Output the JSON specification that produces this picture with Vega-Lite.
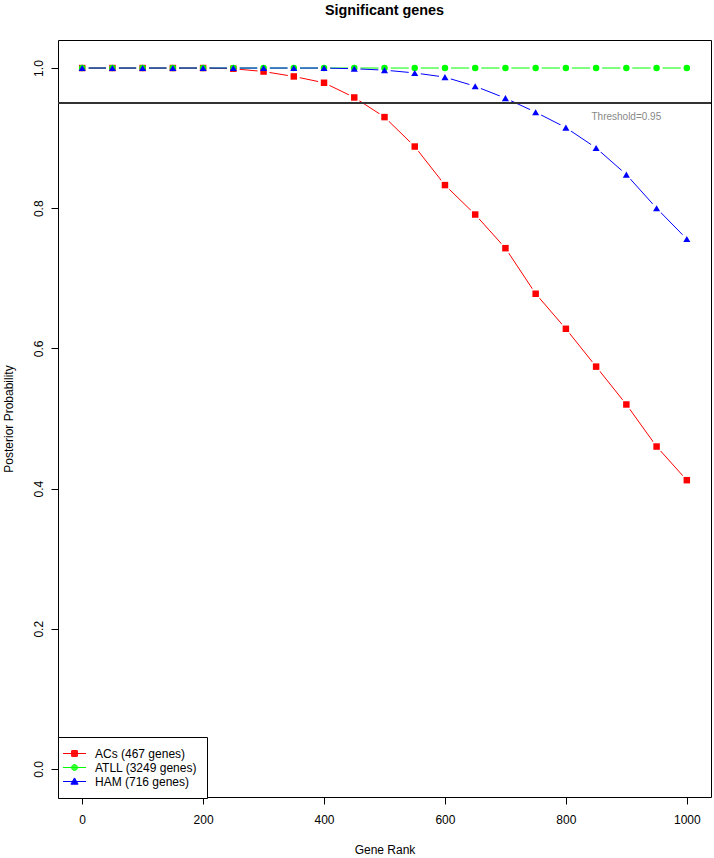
{
  "$schema": "https://vega.github.io/schema/vega-lite/v6.json",
  "autosize": "none",
  "width": 653,
  "height": 757,
  "padding": {"left": 58, "top": 40, "right": 3, "bottom": 61},
  "background": "white",
  "title": {
    "text": "Significant genes",
    "font": "Liberation Sans",
    "fontSize": 14.4,
    "fontWeight": "bold",
    "color": "black",
    "anchor": "middle",
    "offset": 22
  },
  "config": {
    "font": "Liberation Sans",
    "view": {"stroke": "black", "strokeWidth": 1},
    "axis": {
      "labelFont": "Liberation Sans",
      "labelFontSize": 12,
      "labelColor": "black",
      "titleFont": "Liberation Sans",
      "titleFontSize": 12,
      "titleFontWeight": "normal",
      "titleColor": "black",
      "tickColor": "black",
      "tickSize": 7,
      "domain": false,
      "grid": false
    },
    "axisX": {
      "labelPadding": 10,
      "titleBaseline": "alphabetic",
      "titleY": 56
    },
    "axisY": {
      "labelAngle": 270,
      "labelAlign": "center",
      "labelBaseline": "alphabetic",
      "labelPadding": 9,
      "titleAngle": 270,
      "titleAlign": "center",
      "titleBaseline": "alphabetic",
      "titleX": -46,
      "titleY": 378.5
    }
  },
  "data": {
    "values": [
      {"series": "ACs (467 genes)", "rank": 0, "prob": 1.0},
      {"series": "ACs (467 genes)", "rank": 50, "prob": 1.0},
      {"series": "ACs (467 genes)", "rank": 100, "prob": 1.0},
      {"series": "ACs (467 genes)", "rank": 150, "prob": 1.0},
      {"series": "ACs (467 genes)", "rank": 200, "prob": 1.0},
      {"series": "ACs (467 genes)", "rank": 250, "prob": 0.999},
      {"series": "ACs (467 genes)", "rank": 300, "prob": 0.995},
      {"series": "ACs (467 genes)", "rank": 350, "prob": 0.988},
      {"series": "ACs (467 genes)", "rank": 400, "prob": 0.979},
      {"series": "ACs (467 genes)", "rank": 450, "prob": 0.958},
      {"series": "ACs (467 genes)", "rank": 500, "prob": 0.930},
      {"series": "ACs (467 genes)", "rank": 550, "prob": 0.888},
      {"series": "ACs (467 genes)", "rank": 600, "prob": 0.833},
      {"series": "ACs (467 genes)", "rank": 650, "prob": 0.791},
      {"series": "ACs (467 genes)", "rank": 700, "prob": 0.743},
      {"series": "ACs (467 genes)", "rank": 750, "prob": 0.678},
      {"series": "ACs (467 genes)", "rank": 800, "prob": 0.628},
      {"series": "ACs (467 genes)", "rank": 850, "prob": 0.574},
      {"series": "ACs (467 genes)", "rank": 900, "prob": 0.520},
      {"series": "ACs (467 genes)", "rank": 950, "prob": 0.460},
      {"series": "ACs (467 genes)", "rank": 1000, "prob": 0.412},
      {"series": "ATLL (3249 genes)", "rank": 0, "prob": 1.0},
      {"series": "ATLL (3249 genes)", "rank": 50, "prob": 1.0},
      {"series": "ATLL (3249 genes)", "rank": 100, "prob": 1.0},
      {"series": "ATLL (3249 genes)", "rank": 150, "prob": 1.0},
      {"series": "ATLL (3249 genes)", "rank": 200, "prob": 1.0},
      {"series": "ATLL (3249 genes)", "rank": 250, "prob": 1.0},
      {"series": "ATLL (3249 genes)", "rank": 300, "prob": 1.0},
      {"series": "ATLL (3249 genes)", "rank": 350, "prob": 1.0},
      {"series": "ATLL (3249 genes)", "rank": 400, "prob": 1.0},
      {"series": "ATLL (3249 genes)", "rank": 450, "prob": 1.0},
      {"series": "ATLL (3249 genes)", "rank": 500, "prob": 1.0},
      {"series": "ATLL (3249 genes)", "rank": 550, "prob": 1.0},
      {"series": "ATLL (3249 genes)", "rank": 600, "prob": 1.0},
      {"series": "ATLL (3249 genes)", "rank": 650, "prob": 1.0},
      {"series": "ATLL (3249 genes)", "rank": 700, "prob": 1.0},
      {"series": "ATLL (3249 genes)", "rank": 750, "prob": 1.0},
      {"series": "ATLL (3249 genes)", "rank": 800, "prob": 1.0},
      {"series": "ATLL (3249 genes)", "rank": 850, "prob": 1.0},
      {"series": "ATLL (3249 genes)", "rank": 900, "prob": 1.0},
      {"series": "ATLL (3249 genes)", "rank": 950, "prob": 1.0},
      {"series": "ATLL (3249 genes)", "rank": 1000, "prob": 1.0},
      {"series": "HAM (716 genes)", "rank": 0, "prob": 1.0},
      {"series": "HAM (716 genes)", "rank": 50, "prob": 1.0},
      {"series": "HAM (716 genes)", "rank": 100, "prob": 1.0},
      {"series": "HAM (716 genes)", "rank": 150, "prob": 1.0},
      {"series": "HAM (716 genes)", "rank": 200, "prob": 1.0},
      {"series": "HAM (716 genes)", "rank": 250, "prob": 1.0},
      {"series": "HAM (716 genes)", "rank": 300, "prob": 1.0},
      {"series": "HAM (716 genes)", "rank": 350, "prob": 1.0},
      {"series": "HAM (716 genes)", "rank": 400, "prob": 1.0},
      {"series": "HAM (716 genes)", "rank": 450, "prob": 0.999},
      {"series": "HAM (716 genes)", "rank": 500, "prob": 0.997},
      {"series": "HAM (716 genes)", "rank": 550, "prob": 0.993},
      {"series": "HAM (716 genes)", "rank": 600, "prob": 0.987},
      {"series": "HAM (716 genes)", "rank": 650, "prob": 0.974},
      {"series": "HAM (716 genes)", "rank": 700, "prob": 0.957},
      {"series": "HAM (716 genes)", "rank": 750, "prob": 0.937},
      {"series": "HAM (716 genes)", "rank": 800, "prob": 0.915},
      {"series": "HAM (716 genes)", "rank": 850, "prob": 0.886},
      {"series": "HAM (716 genes)", "rank": 900, "prob": 0.848},
      {"series": "HAM (716 genes)", "rank": 950, "prob": 0.800},
      {"series": "HAM (716 genes)", "rank": 1000, "prob": 0.756}
    ]
  },
  "layer": [
    {
      "mark": {"type": "line", "strokeWidth": 1},
      "encoding": {
        "x": {
          "field": "rank", "type": "quantitative",
          "scale": {"domain": [-40, 1040], "nice": false, "zero": false},
          "axis": {"title": "Gene Rank", "values": [0, 200, 400, 600, 800, 1000], "format": "d"}
        },
        "y": {
          "field": "prob", "type": "quantitative",
          "scale": {"domain": [-0.04, 1.04], "nice": false, "zero": false},
          "axis": {"title": "Posterior Probability", "values": [0, 0.2, 0.4, 0.6, 0.8, 1.0], "format": ".1f"}
        },
        "color": {
          "field": "series",
          "type": "nominal",
          "scale": {"domain": ["ACs (467 genes)", "ATLL (3249 genes)", "HAM (716 genes)"], "range": ["#ff0000", "#00ff00", "#0000ff"]},
          "legend": {
            "title": null,
            "orient": "none",
            "legendX": 0,
            "legendY": 697,
            "padding": 10,
            "rowPadding": 1,
            "labelOffset": 14,
            "labelFont": "Liberation Sans",
            "labelFontSize": 12,
            "labelColor": "black",
            "symbolSize": 144,
            "symbolStrokeWidth": 1,
            "strokeColor": "black",
            "fillColor": "white",
            "cornerRadius": 0,
            "encode": {
              "symbols": {
                "update": {
                  "shape": {"signal": "datum.value === 'ACs (467 genes)' ? 'M-1.92,0H1.92M-0.48,-0.48H0.48V0.48H-0.48ZM-0.38,-0.38H0.38V0.38H-0.38ZM-0.28,-0.28H0.28V0.28H-0.28ZM-0.18,-0.18H0.18V0.18H-0.18ZM-0.08,-0.08H0.08V0.08H-0.08Z' : datum.value === 'ATLL (3249 genes)' ? 'M-1.92,0H1.92M-0.5,0A0.5,0.5,0,1,1,0.5,0A0.5,0.5,0,1,1,-0.5,0ZM-0.38,0A0.38,0.38,0,1,1,0.38,0A0.38,0.38,0,1,1,-0.38,0ZM-0.26,0A0.26,0.26,0,1,1,0.26,0A0.26,0.26,0,1,1,-0.26,0ZM-0.14,0A0.14,0.14,0,1,1,0.14,0A0.14,0.14,0,1,1,-0.14,0ZM-0.04,0A0.04,0.04,0,1,1,0.04,0A0.04,0.04,0,1,1,-0.04,0Z' : 'M-1.92,0H1.92M0,-0.6L0.6,0.45H-0.6ZM0,-0.46L0.48,0.38H-0.48ZM0,-0.32L0.36,0.31H-0.36ZM0,-0.18L0.24,0.24H-0.24ZM0,-0.04L0.12,0.17H-0.12Z'"},
                  "strokeWidth": {"value": 1}
                }
              }
            }
          }
        },
        "detail": {"field": "series"}
      }
    },
    {
      "mark": {"type": "point", "filled": true, "shape": "circle", "size": 150, "color": "white", "opacity": 1},
      "encoding": {
        "x": {"field": "rank", "type": "quantitative"},
        "y": {"field": "prob", "type": "quantitative"}
      }
    },
    {
      "mark": {"type": "rule", "color": "#333333", "strokeWidth": 1},
      "encoding": {"y": {"datum": 0.95, "type": "quantitative"}}
    },
    {
      "transform": [{"filter": "datum.series === 'ACs (467 genes)'"}],
      "mark": {"type": "point", "filled": true, "shape": "square", "size": 42, "color": "#ff0000", "opacity": 1},
      "encoding": {
        "x": {"field": "rank", "type": "quantitative"},
        "y": {"field": "prob", "type": "quantitative"}
      }
    },
    {
      "transform": [{"filter": "datum.series === 'ATLL (3249 genes)'"}],
      "mark": {"type": "point", "filled": true, "shape": "circle", "size": 42, "color": "#00ff00", "opacity": 1},
      "encoding": {
        "x": {"field": "rank", "type": "quantitative"},
        "y": {"field": "prob", "type": "quantitative"}
      }
    },
    {
      "transform": [{"filter": "datum.series === 'HAM (716 genes)'"}],
      "mark": {"type": "point", "filled": true, "shape": "triangle-up", "size": 50, "color": "#0000ff", "opacity": 1},
      "encoding": {
        "x": {"field": "rank", "type": "quantitative"},
        "y": {"field": "prob", "type": "quantitative"}
      }
    },
    {
      "data": {"values": [{"label": "Threshold=0.95"}]},
      "mark": {"type": "text", "fontSize": 10, "color": "#888888", "align": "center", "baseline": "middle", "font": "Liberation Sans"},
      "encoding": {
        "text": {"field": "label"},
        "x": {"datum": 900, "type": "quantitative"},
        "y": {"datum": 0.93, "type": "quantitative"}
      }
    }
  ]
}
